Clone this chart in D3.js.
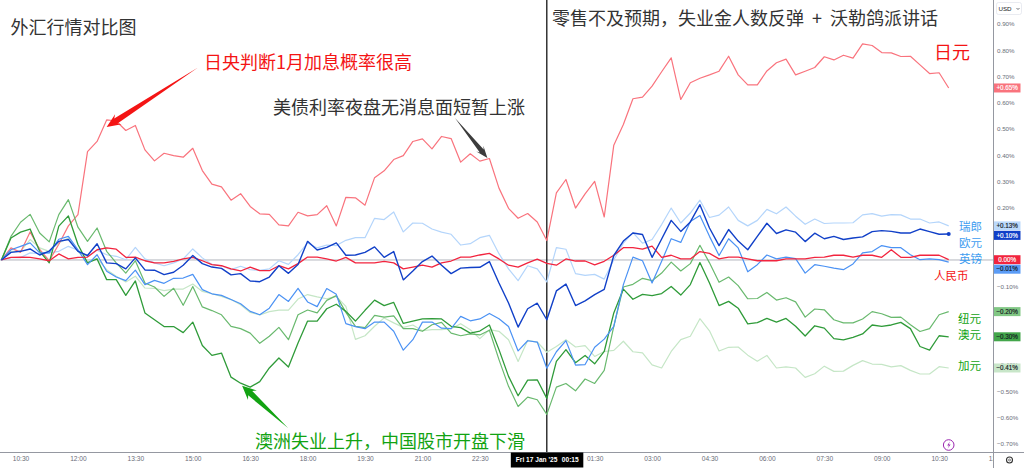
<!DOCTYPE html>
<html>
<head>
<meta charset="utf-8">
<script src="https://cdn.jsdelivr.net/npm/d3@7"></script>
<style>
html, body { margin: 0; padding: 0; background: #fff; overflow: hidden; }
svg { display: block; }
</style>
</head>
<body>
<div id="chart"></div>
<script>
// values in percent, 15 minute bars from 10:00
var jpy = [0,.046,.029,.107,.04,-.003,.06,.13,.173,.413,.452,.534,.53,.494,.513,.42,.378,.407,.398,.392,
  .426,.341,.289,.279,.228,.253,.204,.176,.174,.134,.13,.182,.168,.173,.207,.13,.239,.237,.209,.314,
  .34,.383,.398,.452,.462,.424,.471,.463,.373,.405,.377,.387,.274,.197,.159,.177,.145,.074,.256,.307,
  .198,.252,.30,.164,.438,.517,.615,.621,.663,.718,.771,.612,.676,.693,.706,.72,.777,.706,.668,.668,
  .721,.752,.766,.706,.72,.734,.775,.763,.781,.77,.824,.818,.791,.79,.776,.777,.744,.711,.714,.656];
var chf = [0,.009,.009,.027,.024,.027,.033,.052,.037,.014,.037,.02,.014,.001,.048,.004,-.011,-.022,-.011,.004,
  .042,.008,-.017,-.022,-.037,-.024,-.037,-.04,-.034,-.003,-.017,.02,.065,.046,.057,.055,.075,.085,.085,.159,
  .154,.183,.107,.141,.14,.118,.106,.098,.057,.062,.085,.094,.024,-.034,-.079,-.022,-.034,-.084,.047,.041,
  -.052,-.059,-.055,-.073,.001,.064,.104,.064,.078,.135,.198,.141,.179,.228,.162,.171,.202,.151,.13,.151,
  .193,.176,.202,.167,.136,.156,.139,.141,.141,.142,.172,.177,.167,.173,.172,.156,.156,.141,.145,.13];
var eur = [0,.029,.033,.042,.019,.034,.071,.078,.033,.017,.062,-.011,-.014,-.034,.008,-.038,-.039,-.056,-.047,-.02,
  .017,-.014,-.027,-.032,-.057,-.052,-.08,-.083,-.065,-.022,-.051,-.017,.071,.038,.048,.065,.018,.019,.029,.05,
  .01,.032,-.076,-.042,-.006,.015,-.02,-.052,-.031,-.029,-.028,-.006,-.088,-.164,-.256,-.186,-.165,-.228,-.118,-.092,
  -.174,-.156,-.132,-.112,.017,.072,.103,.097,.01,.08,.151,.109,.145,.211,.122,.055,.116,.072,.039,.09,
  .14,.101,.115,.106,.07,.102,.081,.09,.078,.084,.088,.108,.112,.109,.103,.103,.118,.108,.098,.099];
var gbp = [0,.039,.052,.065,.027,.027,.079,.09,.039,-.018,.02,-.043,-.065,-.079,-.039,-.094,-.078,-.089,-.07,-.069,
  -.055,-.113,-.129,-.135,-.151,-.167,-.196,-.209,-.184,-.132,-.158,-.108,-.16,-.178,-.109,-.131,-.243,-.254,-.262,-.237,
  -.237,-.272,-.344,-.304,-.237,-.237,-.26,-.262,-.215,-.232,-.225,-.204,-.224,-.254,-.347,-.308,-.313,-.413,-.35,-.308,
  -.401,-.399,-.333,-.302,-.253,-.094,.011,-.003,-.088,-.005,.081,.067,.147,.17,.09,.017,.081,.046,-.045,-.018,
  .019,.004,.011,.005,-.05,-.018,-.024,-.031,-.037,-.015,.027,.032,.055,.047,.047,.02,.001,.004,.001,-.008];
var cny = [0,.01,.011,.01,.004,-.003,.023,.004,.01,.011,.039,.046,.041,.01,.011,-.003,-.011,-.011,-.005,.004,
  .01,-.003,-.018,-.022,-.034,-.042,-.027,-.041,-.041,-.022,-.034,-.014,.011,.011,.004,-.004,.01,-.011,-.011,-.011,
  -.005,-.011,-.034,-.027,-.02,-.027,-.011,-.004,.011,.011,.019,.025,.004,-.02,-.027,-.011,.003,-.013,-.02,.004,
  -.004,-.004,-.019,-.005,.018,.047,.047,.041,.053,.01,.018,.004,.004,.032,.025,.004,.011,.011,.004,-.003,
  -.003,-.003,.004,.004,.004,.01,.011,.018,.018,.011,.018,.018,.01,.039,.01,.01,.018,.018,.018,.001];
var nzd = [0,.09,.144,.174,.103,.069,.173,.23,.125,.071,.122,.033,-.011,-.05,-.003,-.088,-.103,-.139,-.108,-.173,
  -.101,-.179,-.193,-.209,-.253,-.262,-.279,-.318,-.291,-.257,-.304,-.209,-.191,-.202,-.154,-.136,-.2,-.253,-.258,-.211,
  -.218,-.213,-.262,-.262,-.272,-.247,-.238,-.279,-.289,-.282,-.286,-.268,-.38,-.482,-.559,-.523,-.533,-.589,-.485,-.471,
  -.499,-.454,-.471,-.421,-.253,-.103,-.093,-.07,-.079,-.05,-.008,-.042,-.014,.056,-.011,-.085,-.065,-.098,-.148,-.147,
  -.124,-.153,-.144,-.16,-.218,-.187,-.19,-.228,-.24,-.24,-.225,-.197,-.205,-.219,-.218,-.247,-.273,-.262,-.209,-.197];
var aud = [0,.084,.106,.118,.033,-.011,.129,.168,.059,-.011,.004,-.075,-.075,-.135,-.08,-.202,-.228,-.254,-.254,-.277,
  -.237,-.326,-.364,-.355,-.447,-.47,-.485,-.464,-.412,-.374,-.408,-.317,-.233,-.233,-.186,-.169,-.196,-.233,-.192,-.153,
  -.174,-.162,-.242,-.233,-.225,-.224,-.225,-.253,-.258,-.279,-.271,-.248,-.342,-.444,-.518,-.458,-.457,-.528,-.387,-.342,
  -.392,-.364,-.396,-.349,-.202,-.111,-.15,-.131,-.136,-.128,-.101,-.134,-.094,-.01,-.088,-.174,-.158,-.184,-.244,-.239,
  -.223,-.237,-.223,-.253,-.29,-.251,-.26,-.30,-.305,-.295,-.282,-.248,-.253,-.248,-.238,-.262,-.33,-.344,-.289,-.293];
var cad = [0,.033,.033,.078,.046,.033,.065,.084,.033,-.008,.006,-.037,-.062,-.084,-.062,-.107,-.108,-.117,-.111,-.111,
  -.092,-.12,-.129,-.139,-.151,-.171,-.2,-.21,-.197,-.191,-.191,-.149,-.132,-.141,-.148,-.139,-.177,-.303,-.289,-.253,
  -.221,-.24,-.257,-.248,-.27,-.266,-.266,-.262,-.243,-.266,-.3,-.266,-.272,-.304,-.387,-.307,-.313,-.352,-.33,-.304,
  -.332,-.327,-.368,-.349,-.345,-.31,-.35,-.354,-.4,-.412,-.349,-.304,-.291,-.224,-.27,-.347,-.333,-.332,-.363,-.386,
  -.364,-.412,-.408,-.412,-.448,-.434,-.405,-.425,-.424,-.402,-.384,-.397,-.398,-.408,-.403,-.421,-.435,-.435,-.407,-.412];

// 0.10, 0.00, -0.20 and -0.30 sit fully behind the last value tags
var yTicks = [0.9, 0.8, 0.7, 0.6, 0.5, 0.4, 0.3, 0.2, -0.1, -0.4, -0.5, -0.6, -0.7];
var timeIdx = [2, 8, 14, 20, 26, 32, 38, 44, 50, 62, 68, 74, 80, 86, 92, 98, 104];
var timeLabels = ["10:30", "12:00", "13:30", "15:00", "16:30", "18:00", "19:30", "21:00", "22:30",
  "01:30", "03:00", "04:30", "06:00", "07:30", "09:00", "10:30", "12:00"];
var crossIdx = 57;

var svgWidth = 1024, svgHeight = 468;
var axisX = 993.5, axisY = 452.5;
var cjk = "'Noto Sans CJK SC', sans-serif";
var latin = "'Liberation Sans', Arial, sans-serif";

var svg = d3.select("#chart").append("svg")
  .attr("width", svgWidth).attr("height", svgHeight);

var x = d3.scaleLinear().domain([0, 99]).range([1.4, 948.7]);
var y = d3.scaleLinear().domain([-0.7, 0.9]).range([443.5, 24]);

svg.append("defs").append("clipPath").attr("id", "timeClip")
  .append("rect").attr("width", axisX).attr("height", svgHeight);

// zero line
svg.append("line")
  .attr("x1", 0).attr("x2", axisX)
  .attr("y1", y(0)).attr("y2", y(0))
  .attr("stroke", "#b2b5be").attr("stroke-width", 1);

// crosshair sits under the lines
svg.append("line")
  .attr("x1", x(crossIdx)).attr("x2", x(crossIdx))
  .attr("y1", 0).attr("y2", axisY)
  .attr("stroke", "#000").attr("stroke-width", 1.2);

var seriesList = [
  { values: cad, color: "#c5e6c6", width: 1.2 },
  { values: chf, color: "#b4d5fb", width: 1.2 },
  { values: jpy, color: "#f9737d", width: 1.2 },
  { values: nzd, color: "#69b96e", width: 1.2 },
  { values: aud, color: "#2f9b39", width: 1.3 },
  { values: gbp, color: "#4b92f4", width: 1.2 },
  { values: cny, color: "#f2243e", width: 1.3 },
  { values: eur, color: "#1140c8", width: 1.4 }
];

var line = d3.line()
  .x(function(d, i) { return x(i); })
  .y(function(d) { return y(d); });

svg.append("g").selectAll("path")
  .data(seriesList)
  .enter()
  .append("path")
  .attr("d", function(d) { return line(d.values); })
  .attr("fill", "none")
  .attr("stroke", function(d) { return d.color; })
  .attr("stroke-width", function(d) { return d.width; })
  .attr("stroke-linejoin", "round");

svg.append("circle")
  .attr("cx", x(99)).attr("cy", y(eur[99])).attr("r", 2)
  .attr("fill", "#1140c8");

// axes
var yAxis = d3.axisRight(y)
  .tickValues(yTicks)
  .tickSize(0)
  .tickPadding(3.5)
  .tickFormat(function(d) { return d3.format(".2f")(d).replace("-", "\u2212") + "%"; });

var yAxisG = svg.append("g")
  .attr("transform", "translate(" + axisX + ",0)")
  .call(yAxis);
yAxisG.select(".domain").remove();
yAxisG.selectAll("text")
  .attr("font-family", latin).attr("font-size", 6.2).attr("fill", "#6a6d78");

var xAxis = d3.axisBottom(x)
  .tickValues(timeIdx)
  .tickSize(0)
  .tickPadding(4)
  .tickFormat(function(d, i) { return timeLabels[i]; });

var xAxisG = svg.append("g")
  .attr("clip-path", "url(#timeClip)")
  .append("g")
  .attr("transform", "translate(0," + axisY + ")")
  .call(xAxis);
xAxisG.select(".domain").remove();
xAxisG.selectAll("text")
  .attr("font-family", latin).attr("font-size", 6.6).attr("fill", "#6a6d78");

svg.append("line")
  .attr("x1", axisX).attr("x2", axisX).attr("y1", 0).attr("y2", svgHeight)
  .attr("stroke", "#9598a1").attr("stroke-width", 1);
svg.append("line")
  .attr("x1", 0).attr("x2", svgWidth).attr("y1", axisY).attr("y2", axisY)
  .attr("stroke", "#9598a1").attr("stroke-width", 1);

// last value tags on the price scale, stacked when they would collide
var tags = [
  { text: "+0.65%", value: jpy[99], color: "#f9737d", ink: "#fff" },
  { text: "+0.13%", value: chf[99], color: "#bbd9fb", ink: "#131722" },
  { text: "+0.10%", value: eur[99], color: "#1140c8", ink: "#fff" },
  { text: "0.00%", value: cny[99], color: "#f2243e", ink: "#fff" },
  { text: "\u22120.01%", value: gbp[99], color: "#5b9cf6", ink: "#131722" },
  { text: "\u22120.20%", value: nzd[99], color: "#81c784", ink: "#131722" },
  { text: "\u22120.30%", value: aud[99], color: "#43a64b", ink: "#131722" },
  { text: "\u22120.41%", value: cad[99], color: "#c8e6c9", ink: "#131722" }
];
tags.forEach(function(d, i) {
  d.top = y(d.value);
  if (i > 0 && d.top - tags[i - 1].top < 9.5) d.top = tags[i - 1].top + 9.5;
});

var tagG = svg.append("g").selectAll("g")
  .data(tags)
  .enter()
  .append("g")
  .attr("transform", function(d) { return "translate(" + (axisX + 0.5) + "," + d.top + ")"; });

tagG.append("rect")
  .attr("x", 0).attr("y", -4.5).attr("width", 26.5).attr("height", 9)
  .attr("fill", function(d) { return d.color; });
tagG.append("text")
  .attr("x", 13.2).attr("y", 2.2)
  .attr("text-anchor", "middle")
  .attr("font-family", latin).attr("font-size", 6.3)
  .attr("stroke", function(d) { return d.ink; }).attr("stroke-width", 0.15)
  .attr("fill", function(d) { return d.ink; })
  .text(function(d) { return d.text; });

// crosshair time tag
var crossTag = svg.append("g").attr("transform", "translate(" + x(crossIdx) + "," + axisY + ")");
crossTag.append("rect")
  .attr("x", -36).attr("y", 0).attr("width", 72.5).attr("height", 15)
  .attr("fill", "#000");
crossTag.append("text")
  .attr("x", -31).attr("y", 9.8)
  .attr("font-family", latin).attr("font-size", 6.6).attr("font-weight", "bold")
  .attr("fill", "#fff")
  .text("Fri 17 Jan '25");
crossTag.append("text")
  .attr("x", 15).attr("y", 9.8)
  .attr("font-family", latin).attr("font-size", 6.6).attr("font-weight", "bold")
  .attr("fill", "#fff")
  .text("00:15");

// annotation arrows point at a data vertex
function arrow(tipX, tipY, tailX, tailY, head, shaft, neck, fill) {
  var dx = tailX - tipX, dy = tailY - tipY;
  var len = Math.sqrt(dx * dx + dy * dy);
  var ux = dx / len, uy = dy / len;
  var nx = -uy, ny = ux;
  var bx = tipX + ux * neck, by = tipY + uy * neck;
  var sx = tipX + ux * (neck - 3), sy = tipY + uy * (neck - 3);
  var pts = [
    [tipX, tipY],
    [bx + nx * head / 2, by + ny * head / 2],
    [sx + nx * shaft / 2, sy + ny * shaft / 2],
    [tailX, tailY],
    [sx - nx * shaft / 2, sy - ny * shaft / 2],
    [bx - nx * head / 2, by - ny * head / 2]
  ];
  svg.append("polygon")
    .attr("points", pts.map(function(p) { return p.join(","); }).join(" "))
    .attr("fill", fill);
}

arrow(x(11), y(jpy[11]) + 7, 198, 67.5, 12, 6, 14, "#f41414");
arrow(x(51) - 2, y(jpy[51]) - 0.5, 455, 118, 9, 5, 12, "#3c3c3c");
arrow(x(25) + 1.5, y(aud[25]) + 2.5, 288, 428, 13, 6, 14, "#12a312");

// texts
var notes = [
  { text: "外汇行情对比图", x: 10.5, y: 26, size: 18, fill: "#333" },
  { text: "零售不及预期，失业金人数反弹\u00a0\u00a0+\u00a0\u00a0沃勒鸽派讲话", x: 552, y: 17, size: 18, fill: "#333" },
  { text: "日央判断1月加息概率很高", x: 204, y: 61, size: 18, fill: "#f41414" },
  { text: "美债利率夜盘无消息面短暂上涨", x: 273, y: 106, size: 18, fill: "#333" },
  { text: "澳洲失业上升，中国股市开盘下滑", x: 255, y: 440, size: 18, fill: "#12a312" },
  { text: "日元", x: 934, y: 51, size: 18, fill: "#f41414" },
  { text: "瑞郎", x: 959, y: 226, size: 11.5, fill: "#3d9df0" },
  { text: "欧元", x: 959, y: 242, size: 11.5, fill: "#3d9df0" },
  { text: "英镑", x: 959, y: 258, size: 11.5, fill: "#3d9df0" },
  { text: "人民币", x: 934, y: 275, size: 11.5, fill: "#f41414" },
  { text: "纽元", x: 958, y: 317.5, size: 11.5, fill: "#12a312" },
  { text: "澳元", x: 958, y: 334, size: 11.5, fill: "#12a312" },
  { text: "加元", x: 958, y: 365, size: 11.5, fill: "#12a312" }
];

svg.append("g").selectAll("text")
  .data(notes)
  .enter()
  .append("text")
  .attr("x", function(d) { return d.x; })
  .attr("y", function(d) { return d.y; })
  .attr("dominant-baseline", "central")
  .attr("font-family", cjk)
  .attr("font-size", function(d) { return d.size; })
  .attr("fill", function(d) { return d.fill; })
  .text(function(d) { return d.text; });

// USD button
svg.append("rect")
  .attr("x", 996.5).attr("y", 2.5).attr("width", 25).attr("height", 12).attr("rx", 2)
  .attr("fill", "#fff").attr("stroke", "#e0e3eb").attr("stroke-width", 0.7);
svg.append("text")
  .attr("x", 998.5).attr("y", 11)
  .attr("font-family", latin).attr("font-size", 6.2).attr("fill", "#131722")
  .text("USD");
svg.append("path")
  .attr("d", "M1016.5 8 L1018 9.5 L1019.5 8")
  .attr("fill", "none").attr("stroke", "#131722").attr("stroke-width", 0.6);

// lightning badge
svg.append("circle")
  .attr("cx", x(99)).attr("cy", 445).attr("r", 5.3)
  .attr("fill", "#fff").attr("stroke", "#9c27b0").attr("stroke-width", 1);
svg.append("path")
  .attr("d", "M949.9 441.5 L947.2 445.4 L949 445.4 L947.7 448.5 L950.6 444.4 L948.8 444.4 Z")
  .attr("fill", "#9c27b0");

// gear
svg.append("circle")
  .attr("cx", 1009.5).attr("cy", 460).attr("r", 3)
  .attr("fill", "none").attr("stroke", "#333").attr("stroke-width", 1.1);
svg.append("circle")
  .attr("cx", 1009.5).attr("cy", 460).attr("r", 1)
  .attr("fill", "none").attr("stroke", "#333").attr("stroke-width", 0.6);
</script>
</body>
</html>
